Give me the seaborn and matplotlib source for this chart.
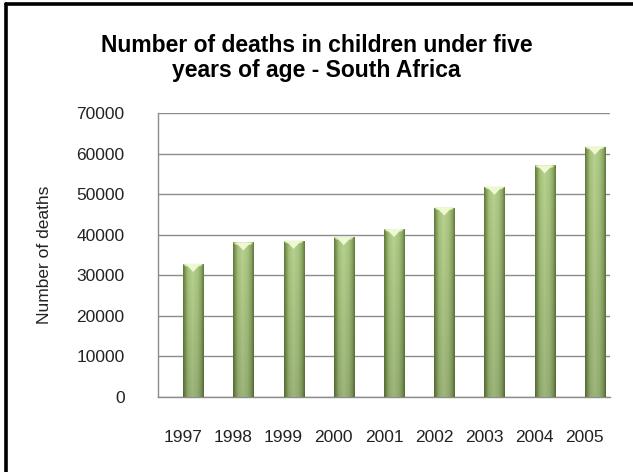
import matplotlib
matplotlib.use("Agg")
import matplotlib.pyplot as plt
import matplotlib.transforms as mtransforms
from matplotlib.patches import Polygon
from matplotlib.colors import LinearSegmentedColormap
import numpy as np
import pandas as pd
import seaborn as sns

# Under-five deaths, South Africa
years = ["1997", "1998", "1999", "2000", "2001", "2002", "2003", "2004", "2005"]
deaths = [32800, 38100, 38500, 39400, 41400, 46700, 51800, 57100, 61700]
y_ticks = [0, 10000, 20000, 30000, 40000, 50000, 60000, 70000]

df = pd.DataFrame({"year": years, "deaths": deaths})

sns.set_theme(style="white")
plt.rcParams["font.family"] = ["Liberation Sans", "DejaVu Sans"]

fig = plt.figure(figsize=(6.33, 4.72), dpi=100)
ax = fig.add_axes([0.2496, 0.1589, 0.7141, 0.6017])

sns.barplot(data=df, x="year", y="deaths", ax=ax, width=0.40,
            color="#9cb86f", edgecolor="none", linewidth=0, zorder=3)

ax.set_ylim(0, 70000)
ax.set_xlim(-0.5, len(years) - 0.5)
ax.set_yticks(y_ticks)
ax.set_yticklabels([str(v) for v in y_ticks])

# gridlines on the back wall
ax.yaxis.grid(True, color="#8c8c8c", linewidth=1.0, zorder=0)
ax.xaxis.grid(False)
for side in ["top", "right"]:
    ax.spines[side].set_visible(False)
ax.spines["left"].set_color("#8c8c8c")
ax.spines["bottom"].set_color("#8c8c8c")
ax.spines["left"].set_linewidth(1.0)
ax.spines["bottom"].set_linewidth(1.0)

ax.tick_params(axis="both", length=0, labelsize=12.5, colors="#222222")
ax.tick_params(axis="x", pad=24)
ax.tick_params(axis="y", pad=24)
ax.set_xlabel("")
ax.set_ylabel("Number of deaths", fontsize=12.5, color="#222222")
ax.yaxis.set_label_coords(-0.235, 0.5)

fig.suptitle("Number of deaths in children under five\nyears of age - South Africa",
             x=0.5, y=0.927, fontsize=16.5, fontweight="bold", color="black",
             linespacing=1.08)

# depth offset: columns sit a little to the right of the category labels
depth = mtransforms.ScaledTranslation(10 / 100, 0, fig.dpi_scale_trans)
bar_trans = ax.transData + depth

# column shading: dark edges, light centre, slightly darker towards the base
shade = LinearSegmentedColormap.from_list(
    "col",
    [(0.00, "#5f7a3c"), (0.10, "#7e9a55"), (0.22, "#a4c079"), (0.45, "#b8d38f"),
     (0.70, "#a9c582"), (0.88, "#8aa762"), (0.95, "#6f8a4a"), (1.00, "#5f7a3c")])
xs = np.linspace(0, 1, 64)
ys = np.linspace(0, 1, 64)
grad = shade(xs)[None, :, :3] * (0.86 + 0.14 * ys[:, None, None])

fig.canvas.draw()
px_to_data = 70000 / ax.get_window_extent().height

for patch in list(ax.patches):
    patch.set_transform(bar_trans)
    x0 = patch.get_x()
    w = patch.get_width()
    h = patch.get_height()
    im = ax.imshow(grad, extent=(x0, x0 + w, 0, h), origin="lower",
                   aspect="auto", transform=bar_trans, zorder=4,
                   interpolation="bilinear")
    im.set_clip_path(patch)
    # bevelled top face
    bev = 8 * px_to_data
    top = Polygon([(x0, h), (x0 + w, h), (x0 + 0.88 * w, h - 0.3 * bev),
                   (x0 + 0.12 * w, h - 0.3 * bev)], closed=True,
                  facecolor="#d3e8ad", edgecolor="none", transform=bar_trans,
                  zorder=4.5)
    ax.add_patch(top)
    tri = Polygon([(x0 + 0.12 * w, h), (x0 + 0.88 * w, h), (x0 + 0.5 * w, h - bev)],
                  closed=True, facecolor="#eef8d2", edgecolor="none",
                  transform=bar_trans, zorder=5)
    ax.add_patch(tri)

ax.set_xlim(-0.5, len(years) - 0.5)
ax.set_ylim(0, 70000)

# outer chart frame
fig.add_artist(plt.Line2D([0.0087, 0.0087], [0, 0.9915], color="black",
                          linewidth=2.6, transform=fig.transFigure))
fig.add_artist(plt.Line2D([0.0087, 1.0], [0.9915, 0.9915], color="black",
                          linewidth=2.6, transform=fig.transFigure))

fig.savefig("out.png", dpi=100)
